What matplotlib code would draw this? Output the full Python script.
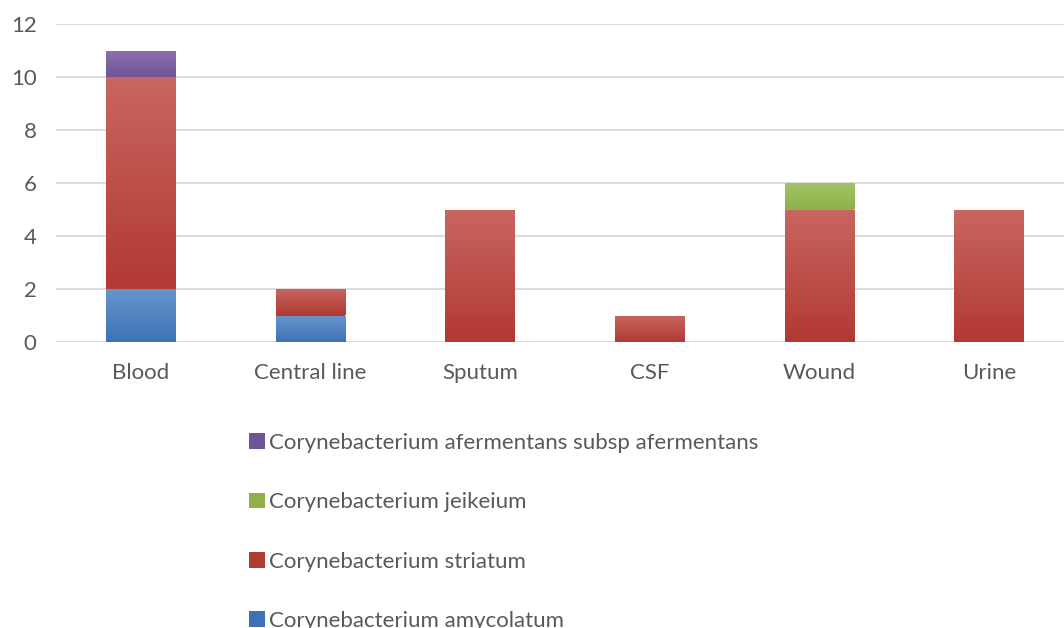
import numpy as np
import matplotlib
matplotlib.use("Agg")
import matplotlib.pyplot as plt
from matplotlib.colors import LinearSegmentedColormap

plt.rcParams['font.family'] = ['Lato', 'DejaVu Sans']

sites = ["Blood", "Central line", "Sputum", "CSF", "Wound", "Urine"]
species = ["Corynebacterium amycolatum", "Corynebacterium striatum",
           "Corynebacterium jeikeium", "Corynebacterium afermentans subsp afermentans"]
amycolatum = [2, 1, 0, 0, 0, 0]
striatum = [8, 1, 5, 1, 5, 5]
jeikeium = [0, 0, 0, 0, 1, 0]
afermentans = [1, 0, 0, 0, 0, 0]
y_ticks = [0, 2, 4, 6, 8, 10, 12]

# top colour, bottom colour for the gradient of each series
grads = [("#6795cb", "#3d73b6"),
         ("#c8665f", "#b23934"),
         ("#a6c46a", "#8cb248"),
         ("#8c72ac", "#6f5597")]

W, H = 1064, 628
fig = plt.figure(figsize=(W / 100, H / 100), dpi=100)
ax = fig.add_axes([56 / W, (H - 342) / H, 1018 / W, 318 / H])

x = np.arange(len(sites))
bottom = np.zeros(len(sites))
series = [amycolatum, striatum, jeikeium, afermentans]
handles = []
for vals, name, (ctop, cbot) in zip(series, species, grads):
    vals = np.array(vals, dtype=float)
    bars = ax.bar(x, vals, 0.41, bottom=bottom, color=cbot, label=name, zorder=2)
    cmap = LinearSegmentedColormap.from_list(name, [cbot, ctop])
    for b in bars:
        if b.get_height() <= 0:
            continue
        x0, y0 = b.get_x(), b.get_y()
        grad = np.linspace(0, 1, 64).reshape(-1, 1)
        im = ax.imshow(grad, cmap=cmap, aspect="auto", origin="lower",
                       extent=(x0, x0 + b.get_width(), y0, y0 + b.get_height()),
                       zorder=3)
        im.set_clip_path(b)
    handles.append(bars)
    bottom += vals

ax.set_xlim(-0.5, len(sites) - 0.5)
ax.set_ylim(0, 12)
ax.set_yticks(y_ticks)
ax.set_xticks(x)
ax.set_xticklabels(sites)
ax.yaxis.grid(True, color="#d9d9d9", linewidth=1.3, zorder=0)
ax.set_axisbelow(True)
for s in ax.spines.values():
    s.set_visible(False)
ax.tick_params(length=0, labelsize=16, labelcolor="#595959")
ax.tick_params(axis="x", pad=15)
ax.tick_params(axis="y", pad=14)

leg = fig.legend(handles[::-1], species[::-1], loc="upper left",
                 bbox_to_anchor=(229 / W, 1 - 413 / H), frameon=False,
                 fontsize=16, labelcolor="#595959", handlelength=0.7,
                 handleheight=0.7, handletextpad=0.2, labelspacing=1.77)

fig.savefig("out.png", dpi=100)
